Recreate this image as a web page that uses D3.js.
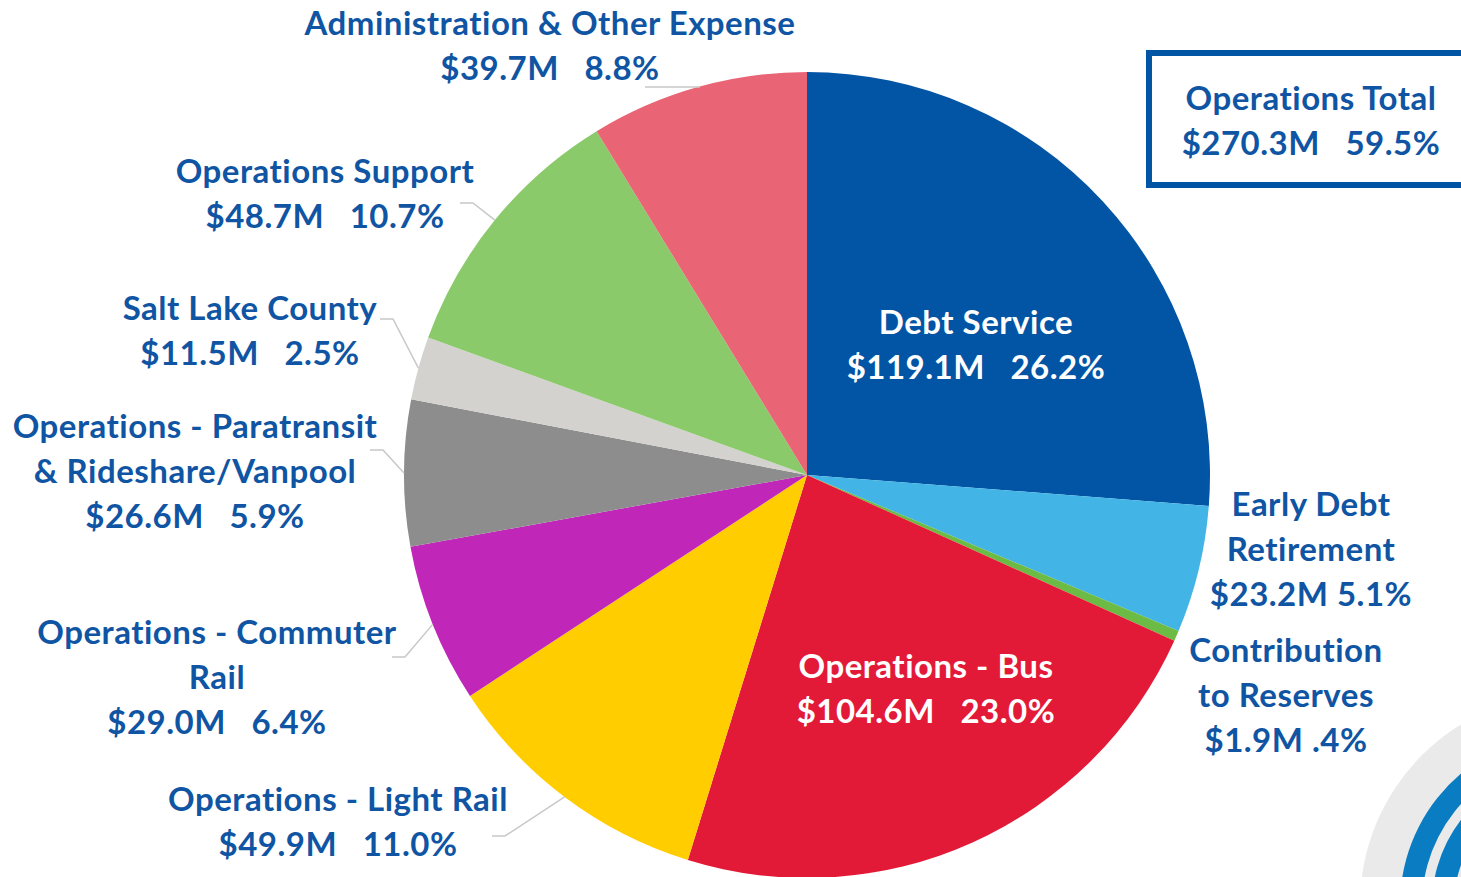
<!DOCTYPE html>
<html>
<head>
<meta charset="utf-8">
<script src="https://cdn.jsdelivr.net/npm/d3@7"></script>
<style>
  body { margin: 0; background: #fff; }
  svg text { font-family: Lato, "Open Sans", sans-serif; font-weight: 700; letter-spacing: 0.5px; }
</style>
</head>
<body>
<svg id="chart"></svg>
<script>
const svg_w = 1461;
const svg_h = 877;

// datos del gráfico (sentido horario desde arriba)
const categories = ["Debt Service", "Early Debt Retirement", "Contribution to Reserves",
  "Operations - Bus", "Operations - Light Rail", "Operations - Commuter Rail",
  "Operations - Paratransit & Rideshare/Vanpool", "Salt Lake County",
  "Operations Support", "Administration & Other Expense"];
const amounts = [119.1, 23.2, 1.9, 104.6, 49.9, 29.0, 26.6, 11.5, 48.7, 39.7];
const amountLabels = ["$119.1M", "$23.2M", "$1.9M", "$104.6M", "$49.9M", "$29.0M", "$26.6M", "$11.5M", "$48.7M", "$39.7M"];
const pctLabels = ["26.2%", "5.1%", ".4%", "23.0%", "11.0%", "6.4%", "5.9%", "2.5%", "10.7%", "8.8%"];
const colors = ["#0254a5", "#42b5e6", "#6cbb45", "#e31a37", "#ffcd00", "#c027b9", "#8c8d8c", "#d3d2cf", "#8bca6a", "#e96475"];
const totalTitle = "Operations Total";
const totalAmount = "$270.3M";
const totalPct = "59.5%";

// texto de cada etiqueta (líneas)
const labelLines = [
  ["Debt Service", "$119.1M   26.2%"],
  ["Early Debt", "Retirement", "$23.2M 5.1%"],
  ["Contribution", "to Reserves", "$1.9M .4%"],
  ["Operations - Bus", "$104.6M   23.0%"],
  ["Operations - Light Rail", "$49.9M   11.0%"],
  ["Operations - Commuter", "Rail", "$29.0M   6.4%"],
  ["Operations - Paratransit", "& Rideshare/Vanpool", "$26.6M   5.9%"],
  ["Salt Lake County", "$11.5M   2.5%"],
  ["Operations Support", "$48.7M   10.7%"],
  ["Administration & Other Expense", "$39.7M   8.8%"]
];

// layout
const cx = 807, cy = 475, radius = 403;
const lineH = 45;
const labelPos = [
  {x: 976, y: 334, inside: true},
  {x: 1311, y: 516},
  {x: 1286, y: 662},
  {x: 926, y: 678, inside: true},
  {x: 338, y: 811, lead: [492, 836]},
  {x: 217, y: 644, lead: [392, 657]},
  {x: 195, y: 438, lead: [370, 450]},
  {x: 250, y: 320, lead: [380, 319]},
  {x: 325, y: 183, lead: [460, 203]},
  {x: 550, y: 35, lead: [645, 87]}
];
const textColor = "#0f55a3";

let svg = d3.select("#chart")
  .attr("width", svg_w)
  .attr("height", svg_h);

// logo parcial abajo a la derecha
let logo = svg.append("g").attr("transform", "translate(1572,905)");
logo.append("circle").attr("r", 212).attr("fill", "#eaeaeb");
logo.append("path")
  .attr("d", d3.arc().innerRadius(150).outerRadius(172).startAngle(-1.9).endAngle(-0.3)())
  .attr("fill", "#0a7cc1");
logo.append("path")
  .attr("d", d3.arc().innerRadius(118).outerRadius(140).startAngle(-1.9).endAngle(-0.3)())
  .attr("fill", "#0a7cc1");

let pie = d3.pie().sort(null).value(d => d);
let arcs = pie(amounts);
let arc = d3.arc().innerRadius(0).outerRadius(radius);

let g = svg.append("g").attr("transform", `translate(${cx},${cy})`);

g.selectAll("path")
  .data(arcs)
  .enter()
  .append("path")
  .attr("d", arc)
  .attr("fill", (d, i) => colors[i]);

// líneas guía
arcs.forEach((d, i) => {
  let p = labelPos[i];
  if (!p.lead) return;
  let a = (d.startAngle + d.endAngle) / 2;
  let ex = cx + radius * Math.sin(a), ey = cy - radius * Math.cos(a);
  let bx = p.lead[0] + 13, by = p.lead[1];
  if (i == 9) bx = p.lead[0] + 55;
  svg.append("polyline")
    .attr("points", `${p.lead[0]},${p.lead[1]} ${bx},${by} ${ex},${ey}`)
    .attr("fill", "none")
    .attr("stroke", "#c8c8c8")
    .attr("stroke-width", 1.5);
});

// etiquetas
labelLines.forEach((lines, i) => {
  let p = labelPos[i];
  let t = svg.append("text")
    .attr("text-anchor", "middle")
    .attr("font-size", 33)
    .attr("fill", p.inside ? "#fff" : textColor);
  lines.forEach((s, j) => {
    t.append("tspan")
      .attr("x", p.x)
      .attr("y", p.y + j * lineH)
      .style("white-space", "pre")
      .text(s);
  });
});

// caja de total
svg.append("rect")
  .attr("x", 1149).attr("y", 53)
  .attr("width", 340).attr("height", 132)
  .attr("fill", "#fff")
  .attr("stroke", "#0254a5")
  .attr("stroke-width", 6);
let tt = svg.append("text")
  .attr("text-anchor", "middle")
  .attr("font-size", 33)
  .attr("fill", textColor);
tt.append("tspan").attr("x", 1311).attr("y", 110).text(totalTitle);
tt.append("tspan").attr("x", 1311).attr("y", 155)
  .style("white-space", "pre").text(totalAmount + "   " + totalPct);
</script>
</body>
</html>
